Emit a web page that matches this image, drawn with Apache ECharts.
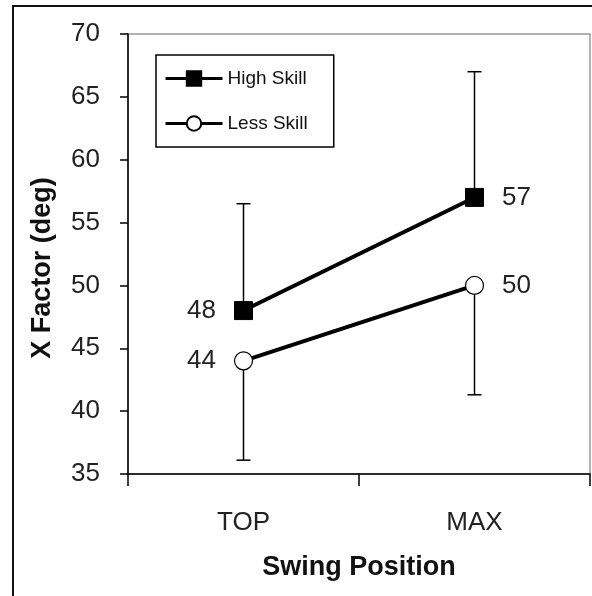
<!DOCTYPE html>
<html>
<head>
<meta charset="utf-8">
<script src="https://cdn.jsdelivr.net/npm/echarts@6/dist/echarts.min.js"></script>
<style>
  html, body { margin: 0; padding: 0; background: #fff; }
  #chart { width: 592px; height: 596px; }
</style>
</head>
<body>
<div id="chart"></div>
<script>
// data
const categories = ['TOP', 'MAX']
const highSkill = [48, 57]
const lessSkill = [44, 50]
// one-sided error bars: high skill goes up, less skill goes down
const highSkillUpper = [56.5, 67]
const lessSkillLower = [36.1, 41.3]
const yTicks = { min: 35, max: 70, step: 5 }

const FONT = 'Liberation Sans, Arial, sans-serif'

const myChart = echarts.init(document.getElementById('chart'))

function errorBar (params, api) {
  const start = api.coord([api.value(0), api.value(1)])
  const end = api.coord([api.value(0), api.value(2)])
  const half = 7
  const style = { stroke: '#000', lineWidth: 1.5 }
  return {
    type: 'group',
    children: [
      { type: 'line', shape: { x1: start[0], y1: start[1], x2: end[0], y2: end[1] }, style },
      { type: 'line', shape: { x1: end[0] - half, y1: end[1], x2: end[0] + half, y2: end[1] }, style }
    ]
  }
}

const options = {
  animation: false,
  backgroundColor: '#fff',
  grid: {
    left: 128,
    top: 34,
    right: 2,
    bottom: 122,
    show: true,
    borderColor: '#999',
    borderWidth: 1.5
  },
  legend: {
    orient: 'vertical',
    left: 156,
    top: 55,
    padding: [14, 26, 14, 8],
    borderColor: '#000',
    borderWidth: 1.5,
    backgroundColor: '#fff',
    itemWidth: 57,
    itemHeight: 18,
    itemGap: 26,
    lineStyle: { width: 3 },
    textStyle: { fontFamily: FONT, fontSize: 19, color: '#111' },
    data: ['High Skill', 'Less Skill']
  },
  xAxis: {
    type: 'category',
    data: categories,
    boundaryGap: true,
    axisLine: { lineStyle: { color: '#000', width: 1.5 } },
    axisTick: { show: true, length: 12, interval: 0, lineStyle: { color: '#000', width: 1.5 } },
    axisLabel: { margin: 36, fontFamily: FONT, fontSize: 26, color: '#222' },
    name: 'Swing Position',
    nameLocation: 'middle',
    nameGap: 80,
    nameTextStyle: { fontFamily: FONT, fontSize: 27, fontWeight: 'bold', color: '#111' }
  },
  yAxis: {
    type: 'value',
    min: yTicks.min,
    max: yTicks.max,
    interval: yTicks.step,
    axisLine: { show: true, lineStyle: { color: '#000', width: 1.5 } },
    axisTick: { show: true, length: 8, lineStyle: { color: '#000', width: 1.5 } },
    axisLabel: { margin: 28, fontFamily: FONT, fontSize: 26, color: '#222' },
    splitLine: { show: false }
  },
  graphic: [
    {
      type: 'rect',
      shape: { x: 13, y: 6, width: 700, height: 700 },
      style: { fill: 'none', stroke: '#111', lineWidth: 2 },
      z: 100
    },
    {
      type: 'text',
      x: 43,
      y: 268,
      rotation: Math.PI / 2,
      style: {
        text: 'X Factor (deg)',
        font: 'bold 27px ' + FONT,
        fill: '#111',
        textAlign: 'center',
        textVerticalAlign: 'middle'
      }
    }
  ],
  series: [
    {
      type: 'custom',
      renderItem: errorBar,
      data: categories.map((c, i) => [i, highSkill[i], highSkillUpper[i]]),
      z: 1,
      silent: true
    },
    {
      type: 'custom',
      renderItem: errorBar,
      data: categories.map((c, i) => [i, lessSkill[i], lessSkillLower[i]]),
      z: 1,
      silent: true
    },
    {
      name: 'High Skill',
      type: 'line',
      symbol: 'rect',
      symbolSize: 18,
      z: 5,
      lineStyle: { color: '#000', width: 4 },
      itemStyle: { color: '#000', borderColor: '#000', borderWidth: 1 },
      label: {
        show: true,
        fontFamily: FONT,
        fontSize: 26,
        color: '#222',
        distance: 18
      },
      data: highSkill.map((v, i) => ({
        value: v,
        label: { position: i === 0 ? 'left' : 'right' }
      }))
    },
    {
      name: 'Less Skill',
      type: 'line',
      symbol: 'circle',
      symbolSize: 18,
      z: 5,
      lineStyle: { color: '#000', width: 4 },
      itemStyle: { color: '#fff', borderColor: '#000', borderWidth: 1.2 },
      label: {
        show: true,
        fontFamily: FONT,
        fontSize: 26,
        color: '#222',
        distance: 18
      },
      data: lessSkill.map((v, i) => ({
        value: v,
        label: { position: i === 0 ? 'left' : 'right' }
      }))
    }
  ]
}

myChart.setOption(options)
</script>
</body>
</html>
